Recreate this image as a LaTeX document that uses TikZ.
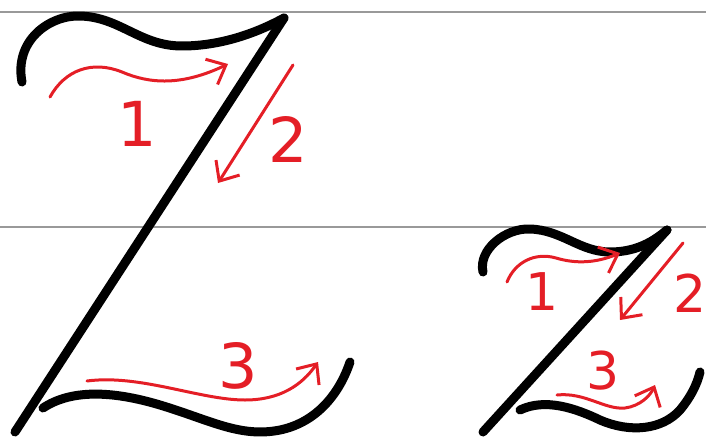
\documentclass[tikz,border=0pt]{standalone}
\usepackage{fontspec}
\setmainfont{DejaVu Sans}
\usetikzlibrary{arrows.meta}

\definecolor{penred}{RGB}{228,30,38}

\tikzset{
    guide/.style={gray!80, line width=1.2pt},
    letter/.style={black, line width=9pt, line cap=round, line join=round},
    stroke/.style={penred, line width=3pt, line cap=round,
        -{Straight Barb[length=16pt, width=28pt, line width=3pt]}},
    num/.style={penred, inner sep=0pt, font=\fontsize{62}{62}\selectfont},
    smallnum/.style={num, font=\fontsize{52}{52}\selectfont}
}

\begin{document}
\begin{tikzpicture}[x=1pt, y=-1pt]
    \useasboundingbox (0,0) rectangle (706,436);

    % guide lines
    \draw[guide] (0,12) -- (706,12);
    \draw[guide] (0,227) -- (706,227);

    % capital Z
    \draw[letter] (22,82) .. controls (14,40) and (50,15) .. (80,16)
        .. controls (120,17) and (140,46) .. (182,46)
        .. controls (225,46) and (262,30) .. (284,18);
    \draw[letter] (284,18) -- (15,432);
    \draw[letter] (43,408) .. controls (70,390) and (110,390) .. (160,405)
        .. controls (210,420) and (240,438) .. (280,430)
        .. controls (318,422) and (340,392) .. (350,362);

    % strokes of capital Z
    \draw[stroke] (50,97) .. controls (65,70) and (92,60) .. (122,72)
        .. controls (150,84) and (182,86) .. (228,64);
    \node[num] (one) at (137,124) {1};
    \draw[stroke] (293,65) -- (218,183);
    \node[num] (two) at (288,139) {2};
    \draw[stroke] (87,381) .. controls (140,374) and (200,400) .. (245,400)
        .. controls (280,400) and (302,385) .. (318,362);
    \node[num] (three) at (238,366) {3};

    % small z
    \draw[letter] (483,272) .. controls (478,250) and (505,228) .. (530,229)
        .. controls (562,230) and (580,252) .. (610,252)
        .. controls (638,252) and (655,240) .. (667,230);
    \draw[letter] (667,230) -- (483,432);
    \draw[letter] (520,410) .. controls (545,398) and (575,408) .. (600,420)
        .. controls (630,433) and (662,430) .. (680,410)
        .. controls (690,398) and (697,385) .. (700,372);

    % strokes of small z
    \draw[stroke] (507,282) .. controls (515,262) and (535,252) .. (556,258)
        .. controls (576,264) and (596,263) .. (620,253);
    \node[smallnum] (sone) at (542,292) {1};
    \draw[stroke] (683,243) -- (620,320);
    \node[smallnum] (stwo) at (690,293) {2};
    \draw[stroke] (557,395) .. controls (585,392) and (605,410) .. (625,408)
        .. controls (640,406) and (650,396) .. (655,385);
    \node[smallnum] (sthree) at (603,371) {3};
\end{tikzpicture}
\end{document}
